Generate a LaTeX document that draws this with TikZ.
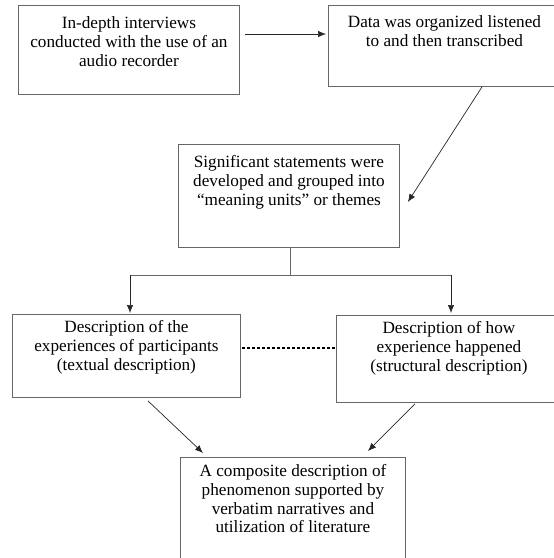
\documentclass[tikz,border=0pt]{standalone}
\usepackage{fontspec}
\setmainfont{Liberation Serif}
\usetikzlibrary{arrows.meta,calc}
% width, height, first-baseline offset, text
\newcommand{\bxtext}[4]{\parbox[c][#2][t]{#1}{\centering\fontsize{17.2}{18.8}\selectfont\rule{0pt}{#3}#4}}
\tikzset{
  box/.style={draw=black!60, line width=0.9pt, inner sep=0pt, anchor=north west},
  arr/.style={draw=black!85, line width=0.7pt, -{Latex[length=8pt,width=6.5pt]}},
  ln/.style={draw=black!60, line width=0.9pt},
  dsh/.style={draw=black, line width=1.8pt, dash pattern=on 3.5pt off 1.5pt}
}
\begin{document}
\begin{tikzpicture}[x=1pt,y=-1pt]
\useasboundingbox (0,0) rectangle (554,558);
\node[box] (b1) at (18,5) {\bxtext{221pt}{89pt}{23pt}{In-depth interviews\\ conducted with the use of an\\ audio recorder}};
\node[box] (b2) at (328,5) {\bxtext{232pt}{81pt}{22pt}{Data was organized listened\\ to and then transcribed}};
\node[box] (b3) at (178,144) {\bxtext{221pt}{103pt}{23pt}{Significant statements were\\ developed and grouped into\\ ``meaning units'' or themes}};
\node[box] (b4) at (12,314) {\bxtext{228pt}{83pt}{18.5pt}{Description of the\\ experiences of participants\\ (textual description)}};
\node[box] (b5) at (336,315) {\bxtext{225pt}{87pt}{18pt}{Description of how\\ experience happened\\ (structural description)}};
\node[box] (b6) at (180,457) {\bxtext{225pt}{106pt}{19pt}{A composite description of\\ phenomenon supported by\\ verbatim narratives and\\ utilization of literature}};
% connectors
\coordinate (a1s) at ($(b1.north east)+(5,29)$);
\draw[arr] (a1s) -- ($(a1s -| b2.west)+(-2,0)$);
\coordinate (a2s) at ($(b2.south west)+(154,0)$);
\coordinate (a2e) at ($(b3.north east)+(8,58)$);
\draw[arr] (a2s) -- (a2e);
\coordinate (br) at ($(b3.south)+(1.5,28)$);
\coordinate (brl) at (130,275);
\coordinate (brr) at (451,275);
\draw[ln] (b3.south -| br) -- (br);
\draw[ln] (brl) -- (brr);
\draw[arr] (brl) -- ($(brl |- b4.north)+(0,-1)$);
\draw[arr] (brr) -- ($(brr |- b5.north)+(0,-2)$);
\draw[dsh] ($(b4.north east)+(1,34)$) -- ($(b5.north west)+(0,33)$);
\coordinate (c1s) at ($(b4.south west)+(136,3)$);
\coordinate (c1e) at ($(b6.north west)+(23,-4)$);
\draw[arr] (c1s) -- (c1e);
\coordinate (c2s) at ($(b5.south west)+(79,1)$);
\coordinate (c2e) at ($(b6.north west)+(188,-6)$);
\draw[arr] (c2s) -- (c2e);
\end{tikzpicture}
\end{document}
